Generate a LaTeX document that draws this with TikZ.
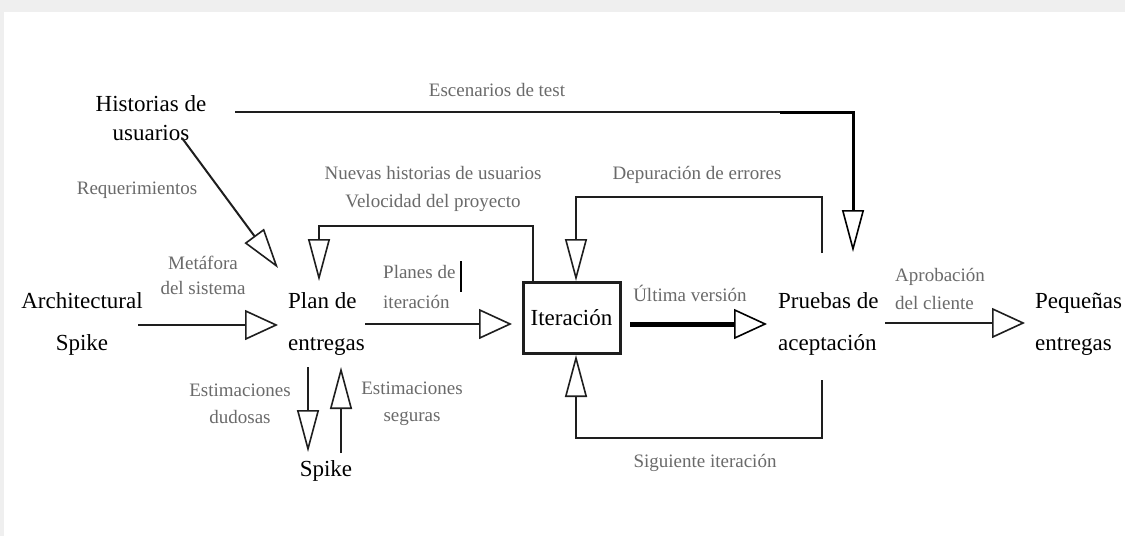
\documentclass[tikz,border=0pt]{standalone}
\usepackage{fontspec}
\setmainfont{Liberation Serif}
\usetikzlibrary{arrows.meta}
\definecolor{labgray}{HTML}{6A6A6A}
\definecolor{linecol}{HTML}{1E1E1E}
\definecolor{bandgray}{HTML}{EFEFEF}
\begin{document}
\begin{tikzpicture}[x=1pt,y=-1pt,
  maintext/.style={font=\fontsize{23}{42}\selectfont, text=black, inner sep=0pt},
  labtext/.style={font=\fontsize{19}{27}\selectfont, text=labgray, inner sep=0pt},
  conn/.style={draw=linecol, line width=2pt},
  harrow/.style={-{Triangle[open,length=33pt,width=30pt,line width=1.6pt]}},
  varrow/.style={-{Triangle[open,length=42pt,width=22pt,line width=1.6pt]}},
  darrow/.style={-{Triangle[open,length=40pt,width=24pt,line width=1.6pt]}},
  iterbox/.style={draw=linecol, line width=3pt, minimum width=97pt, minimum height=71pt, inner sep=0pt, font=\fontsize{23}{28}\selectfont}
]
\useasboundingbox (0,0) rectangle (1125,536);
\fill[bandgray] (0,0) rectangle (1125,536);
\fill[white] (4,12) rectangle (1125,536);

% nodes
\node[maintext, align=center, font=\fontsize{23}{29}\selectfont] (hist) at (151,118) {Historias de\\usuarios};
\node[maintext, align=center] (arch) at (82,324) {Architectural\\Spike};
\node[maintext, align=left, anchor=west] (plan) at (288,324) {Plan de\\entregas};
\node[iterbox] (iter) at (571.5,317.5) {Iteración};
\node[maintext, align=left, anchor=west] (prue) at (778,324) {Pruebas de\\aceptación};
\node[maintext, align=left, anchor=west] (peq) at (1035,324) {Pequeñas\\entregas};
\node[maintext] (spike) at (326,471) {Spike};

% labels
\node[labtext] (lesc) at (497,90) {Escenarios de test};
\node[labtext] (lreq) at (137,190) {Requerimientos};
\node[labtext, align=center, font=\fontsize{19}{25}\selectfont] (lmet) at (203,275) {Metáfora\\del sistema};
\node[labtext, align=center, font=\fontsize{19}{28}\selectfont] (lnue) at (433,189) {Nuevas historias de usuarios\\Velocidad del proyecto};
\node[labtext, align=left, anchor=west, font=\fontsize{19}{30}\selectfont] (lpla) at (383,287) {Planes de\\iteración};
\node[labtext] (lult) at (690,293) {Última versión};
\node[labtext] (ldep) at (697,175) {Depuración de errores};
\node[labtext, align=left, anchor=west, font=\fontsize{19}{28}\selectfont] (lapr) at (895,289) {Aprobación\\del cliente};
\node[labtext, align=center] (ldud) at (240,404) {Estimaciones\\dudosas};
\node[labtext, align=center] (lseg) at (412,404) {Estimaciones\\seguras};
\node[labtext] (lsig) at (705,463) {Siguiente iteración};

% coordinates
\coordinate (h1) at (235,112);
\coordinate (hm) at (780,112);
\coordinate (h2) at (853,112);
\coordinate (h3) at (853,252);
\coordinate (d1) at (182,138);
\coordinate (d2) at (278,268);
\coordinate (a1) at (138,325);
\coordinate (a2) at (278,325);
\coordinate (n1) at (533,282);
\coordinate (n2) at (533,226);
\coordinate (n3) at (319,226);
\coordinate (n4) at (319,281);
\coordinate (p1) at (365,324);
\coordinate (p2) at (512,324);
\coordinate (e1) at (822,253);
\coordinate (e2) at (822,197);
\coordinate (e3) at (576,197);
\coordinate (e4) at (576,281);
\coordinate (u1) at (630,324);
\coordinate (u2) at (767,324);
\coordinate (s1) at (822,380);
\coordinate (s2) at (822,438);
\coordinate (s3) at (576,438);
\coordinate (s4) at (576,355);
\coordinate (c1) at (885,323);
\coordinate (c2) at (1025,323);
\coordinate (k1) at (308,367);
\coordinate (k2) at (308,452);
\coordinate (k3) at (341,453);
\coordinate (k4) at (341,367);
\coordinate (bar1) at (461,261);
\coordinate (bar2) at (461,292);

% connectors
\draw[conn] (h1) -- (hm);
\draw[conn, line width=3pt, draw=black, varrow] (hm) -- (h2) -- (h3);
\draw[conn, darrow] (d1) -- (d2);
\draw[conn, harrow] (a1) -- (a2);
\draw[conn, varrow] (n1) -- (n2) -- (n3) -- (n4);
\draw[conn, harrow] (p1) -- (p2);
\draw[conn, varrow] (e1) -- (e2) -- (e3) -- (e4);
\draw[conn, line width=5pt, draw=black, -{Triangle[open,length=33pt,width=30pt,line width=1.6pt]}] (u1) -- (u2);
\draw[conn, varrow] (s1) -- (s2) -- (s3) -- (s4);
\draw[conn, harrow] (c1) -- (c2);
\draw[conn, varrow] (k1) -- (k2);
\draw[conn, line width=1.5pt, varrow] (k3) -- (k4);
\draw[draw=black, line width=1.5pt] (bar1) -- (bar2);
\end{tikzpicture}
\end{document}
